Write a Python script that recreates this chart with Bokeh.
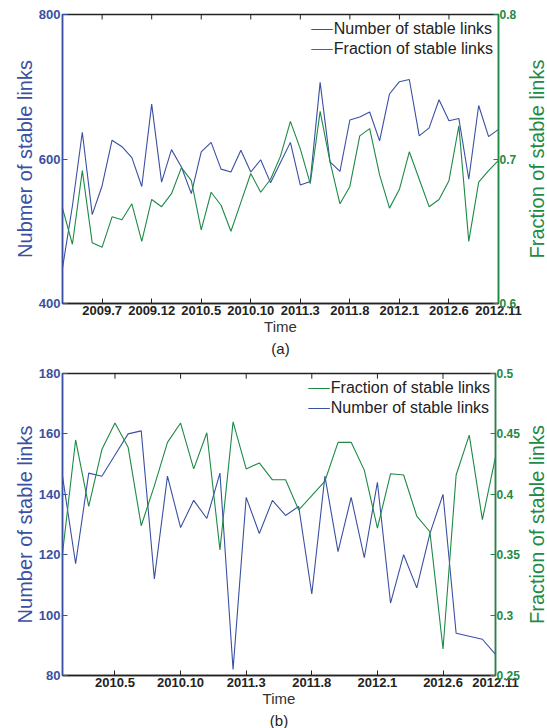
from bokeh.plotting import figure
from bokeh.models import Range1d, LinearAxis, FixedTicker, Legend, LegendItem, Title
from bokeh.layouts import column, row
from bokeh.embed import file_html
from bokeh.resources import INLINE

# ---------------- data (a) ----------------
count_a = [449, 535, 637, 523, 563, 626, 617, 602, 562, 676, 568, 613, 589, 552, 610,
           623, 586, 582, 612, 582, 599, 567, 595, 623, 564, 569, 706, 596, 583, 654,
           658, 665, 625, 690, 707, 710, 632, 643, 682, 653, 656, 572, 674, 631, 641]
frac_a = [0.666, 0.641, 0.692, 0.642, 0.639, 0.660, 0.658, 0.669, 0.643, 0.672, 0.667,
          0.676, 0.694, 0.685, 0.651, 0.677, 0.668, 0.650, 0.670, 0.690, 0.677, 0.686,
          0.702, 0.726, 0.707, 0.683, 0.733, 0.698, 0.669, 0.681, 0.716, 0.721, 0.689,
          0.666, 0.679, 0.705, 0.686, 0.667, 0.672, 0.685, 0.723, 0.643, 0.684, 0.692, 0.699]
xtick_idx_a = [4, 9, 14, 19, 24, 29, 34, 39, 44]
xtick_lab_a = ["2009.7", "2009.12", "2010.5", "2010.10", "2011.3", "2011.8",
               "2012.1", "2012.6", "2012.11"]
left_ticks_a = [400, 600, 800]
right_ticks_a = [0.6, 0.7, 0.8]
right_lab_a = ["0.6", "0.7", "0.8"]

# ---------------- data (b) ----------------
count_b = [146, 117, 147, 146, 153, 160, 161, 112, 146, 129, 138, 132, 147, 82, 139,
           127, 138, 133, 136, 107, 146, 121, 139, 119, 144, 104, 120, 109, 127, 140,
           94, 93, 92, 87]
frac_b = [0.351, 0.445, 0.390, 0.437, 0.459, 0.439, 0.374, 0.407, 0.443, 0.459, 0.421,
          0.451, 0.354, 0.460, 0.421, 0.426, 0.412, 0.412, 0.387, 0.399, 0.411, 0.443,
          0.443, 0.420, 0.372, 0.417, 0.416, 0.382, 0.369, 0.272, 0.416, 0.449, 0.379, 0.431]
xtick_idx_b = [4, 9, 14, 19, 24, 29, 33]
xtick_lab_b = ["2010.5", "2010.10", "2011.3", "2011.8", "2012.1", "2012.6", "2012.11"]
left_ticks_b = [80, 100, 120, 140, 160, 180]
right_ticks_b = [0.25, 0.3, 0.35, 0.4, 0.45, 0.5]
right_lab_b = ["0.25", "0.3", "0.35", "0.4", "0.45", "0.5"]

BLUE = "#3a50a2"
GREEN = "#1d8a46"
DARK = "#222222"
FONT = "Liberation Sans"
W_MAIN = 522
W_SIDE = 25


def build(count, frac, left_range, left_ticks, right_range, right_ticks, right_lab,
          xt_idx, xt_lab, left_label, caption, green_first, height, top_border, bottom_border):
    n = len(count)
    x = list(range(n))
    p = figure(width=W_MAIN, height=height, title=None,
               x_range=Range1d(0, n - 1), y_range=Range1d(*left_range),
               output_backend="svg", toolbar_location=None,
               min_border_left=62, min_border_top=top_border,
               min_border_right=W_MAIN - 62 - 436, min_border_bottom=bottom_border)
    p.extra_y_ranges = {"r": Range1d(*right_range)}
    p.xgrid.visible = False
    p.ygrid.visible = False
    p.outline_line_color = DARK
    p.outline_line_width = 1.3
    p.background_fill_color = "white"

    # bottom axis
    xa = p.xaxis[0]
    xa.ticker = FixedTicker(ticks=xt_idx)
    xa.major_label_overrides = {i: s for i, s in zip(xt_idx, xt_lab)}
    xa.major_tick_in = 5
    xa.major_tick_out = 0
    xa.minor_tick_line_color = None
    xa.axis_line_color = DARK
    xa.axis_line_width = 1.3
    xa.major_tick_line_color = DARK
    xa.major_label_text_font = FONT
    xa.major_label_text_font_style = "bold"
    xa.major_label_text_font_size = "13px"
    xa.major_label_text_color = DARK
    xa.major_label_standoff = 2
    xa.axis_label = "Time"
    xa.axis_label_text_font = FONT
    xa.axis_label_text_font_style = "normal"
    xa.axis_label_text_font_size = "15px"
    xa.axis_label_text_color = "#333333"
    xa.axis_label_standoff = 0

    # ticks on the top spine (same positions as bottom ticks)
    lo, hi = left_range
    tick_len = (hi - lo) * 5.0 / 290.0
    p.segment(x0=xt_idx, x1=xt_idx, y0=[hi] * len(xt_idx), y1=[hi - tick_len] * len(xt_idx),
              line_color=DARK, line_width=1)

    # left axis
    ya = p.yaxis[0]
    ya.ticker = FixedTicker(ticks=left_ticks)
    ya.major_tick_in = 5
    ya.major_tick_out = 0
    ya.minor_tick_line_color = None
    ya.axis_line_color = BLUE
    ya.axis_line_width = 1.6
    ya.major_tick_line_color = BLUE
    ya.major_label_text_font = FONT
    ya.major_label_text_font_style = "bold"
    ya.major_label_text_font_size = "13px"
    ya.major_label_text_color = BLUE
    ya.major_label_standoff = 2
    ya.axis_label = left_label
    ya.axis_label_text_font = FONT
    ya.axis_label_text_font_style = "normal"
    ya.axis_label_text_font_size = "20px"
    ya.axis_label_text_color = BLUE
    ya.axis_label_standoff = 0

    # right axis (ticks + tick labels)
    ra = LinearAxis(y_range_name="r", ticker=FixedTicker(ticks=right_ticks))
    ra.major_label_overrides = {t: s for t, s in zip(right_ticks, right_lab)}
    ra.major_tick_in = 5
    ra.major_tick_out = 0
    ra.minor_tick_line_color = None
    ra.axis_line_color = GREEN
    ra.axis_line_width = 1.6
    ra.major_tick_line_color = GREEN
    ra.major_label_text_font = FONT
    ra.major_label_text_font_style = "bold"
    ra.major_label_text_font_size = "12px"
    ra.major_label_text_color = GREEN
    ra.major_label_standoff = 1
    p.add_layout(ra, "right")

    rb = p.line(x, count, line_color=BLUE, line_width=1.1)
    rg = p.line(x, frac, line_color=GREEN, line_width=1.1, y_range_name="r")

    it_b = LegendItem(label="Number of stable links", renderers=[rb])
    it_g = LegendItem(label="Fraction of stable links", renderers=[rg])
    items = [it_g, it_b] if green_first else [it_b, it_g]
    leg = Legend(items=items, location="top_right", border_line_color=None,
                 background_fill_alpha=0, label_text_font=FONT,
                 label_text_font_size="16px", label_text_color=DARK,
                 glyph_width=22, glyph_height=20, label_height=20, spacing=0,
                 padding=3, margin=5, label_standoff=1)
    p.add_layout(leg)

    cap = Title(text=caption, align="center", text_font=FONT, text_font_size="15px",
                text_font_style="normal", text_color=DARK, standoff=0, offset=0)
    p.add_layout(cap, "below")

    # narrow side panel carrying the right-hand axis title (reads bottom-to-top)
    s = figure(width=W_SIDE, height=height, title=None, x_range=Range1d(0, 1),
               y_range=Range1d(*right_range), output_backend="svg", toolbar_location=None,
               x_axis_location=None, y_axis_location="left",
               min_border_left=0, min_border_right=0,
               min_border_top=top_border, min_border_bottom=bottom_border)
    s.outline_line_color = None
    s.xgrid.visible = False
    s.ygrid.visible = False
    sa = s.yaxis[0]
    sa.ticker = FixedTicker(ticks=[])
    sa.axis_line_color = None
    sa.major_tick_line_color = None
    sa.minor_tick_line_color = None
    sa.major_label_standoff = 0
    sa.axis_label = "Fraction of stable links"
    sa.axis_label_standoff = 0
    sa.axis_label_text_font = FONT
    sa.axis_label_text_font_style = "normal"
    sa.axis_label_text_font_size = "20px"
    sa.axis_label_text_color = GREEN
    return row(p, s, spacing=0)


pa = build(count_a, frac_a, (400, 800), left_ticks_a, (0.6, 0.8), right_ticks_a, right_lab_a,
           xtick_idx_a, xtick_lab_a, "Nubmer of stable links", "(a)", False, 358, 14, 55)
pb = build(count_b, frac_b, (80, 180), left_ticks_b, (0.25, 0.5), right_ticks_b, right_lab_b,
           xtick_idx_b, xtick_lab_b, "Number of stable links", "(b)", True, 370, 15, 51)

layout = column(pa, pb, spacing=0)
open("out.html", "w").write(file_html(layout, INLINE))
